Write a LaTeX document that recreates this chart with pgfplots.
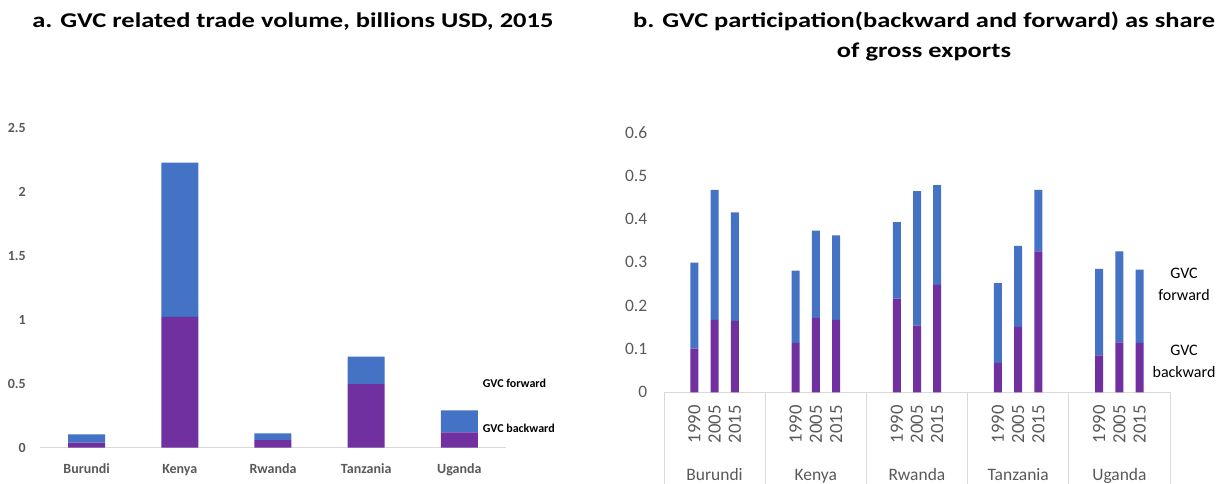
\documentclass[border=0pt]{standalone}
\usepackage{fontspec}
\setmainfont{Carlito}
\usepackage{pgfplots}
\usepackage{pgfplotstable}
\pgfplotsset{compat=1.18}
\definecolor{gblue}{HTML}{4472C4}
\definecolor{gpurp}{HTML}{7030A0}
\definecolor{tgray}{HTML}{595959}
\definecolor{lgray}{HTML}{D9D9D9}

\pgfplotstableread{
x    back   fwd
0    0.039  0.066
1    1.023  1.206
2    0.060  0.052
3    0.497  0.216
4    0.120  0.171
}\voltable

\pgfplotstableread{
x     back   fwd
1.5   0.101  0.198
2.5   0.167  0.300
3.5   0.165  0.250
6.5   0.114  0.167
7.5   0.172  0.201
8.5   0.167  0.195
11.5  0.216  0.177
12.5  0.154  0.310
13.5  0.248  0.230
16.5  0.068  0.184
17.5  0.151  0.187
18.5  0.325  0.142
21.5  0.085  0.200
22.5  0.115  0.210
23.5  0.114  0.169
}\parttable

\begin{document}
\begin{tikzpicture}
\useasboundingbox (0,0) rectangle (924pt,362.25pt);

% ---------- left panel ----------
\begin{axis}[
  at={(30pt,26.475pt)}, anchor=south west,
  scale only axis, width=349.5pt, height=239.775pt,
  xmin=-0.5, xmax=4.5, ymin=0, ymax=2.5,
  ybar stacked, bar width=27.75pt,
  axis x line*=bottom, axis y line*=left,
  x axis line style={draw=lgray, line width=0.75pt},
  y axis line style={draw=none},
  major tick length=0pt,
  xtick={0,1,2,3,4},
  xticklabels={Burundi,Kenya,Rwanda,Tanzania,Uganda},
  ytick={0,0.5,1,1.5,2,2.5},
  yticklabels={0,0.5,1,1.5,2,2.5},
  xticklabel style={yshift=-19.4pt, anchor=base, inner sep=0pt, text=tgray, font=\bfseries\fontsize{10.5}{12}\selectfont},
  yticklabel style={xshift=-10.5pt, anchor=east, inner sep=0pt, text=tgray, font=\bfseries\fontsize{10.5}{12}\selectfont},
  clip=false,
]
\addplot[fill=gpurp, draw=none] table[x=x, y=back] {\voltable};
\addplot[fill=gblue, draw=none] table[x=x, y=fwd] {\voltable};
\end{axis}

% ---------- right panel ----------
\begin{axis}[
  at={(498pt,68.025pt)}, anchor=south west,
  scale only axis, width=379.5pt, height=195pt,
  xmin=0, xmax=25, ymin=0, ymax=0.6,
  ybar stacked, bar width=6pt,
  axis x line*=bottom, axis y line*=left,
  x axis line style={draw=lgray, line width=0.75pt},
  y axis line style={draw=none},
  major tick length=0pt,
  xtick={1.5,2.5,3.5,6.5,7.5,8.5,11.5,12.5,13.5,16.5,17.5,18.5,21.5,22.5,23.5},
  xticklabels={1990,2005,2015,1990,2005,2015,1990,2005,2015,1990,2005,2015,1990,2005,2015},
  ytick={0,0.1,0.2,0.3,0.4,0.5,0.6},
  yticklabels={0,0.1,0.2,0.3,0.4,0.5,0.6},
  xticklabel style={yshift=-9.5pt, rotate=90, anchor=east, inner sep=0pt, text=tgray, font=\fontsize{14}{16}\selectfont},
  yticklabel style={xshift=-12.4pt, anchor=east, inner sep=0pt, text=tgray, font=\fontsize{13.1}{15}\selectfont},
  clip=false,
]
\addplot[fill=gpurp, draw=none] table[x=x, y=back] {\parttable};
\addplot[fill=gblue, draw=none] table[x=x, y=fwd] {\parttable};
\pgfplotsinvokeforeach{0,5,10,15,20,25}{
  \draw[lgray, line width=0.75pt] (axis cs:#1,0) -- ++(0pt,-75pt);
}
\node[anchor=base, inner sep=0pt, text=tgray, font=\fontsize{13.1}{15}\selectfont, yshift=-65.8pt] at (axis cs:2.5,0) {Burundi};
\node[anchor=base, inner sep=0pt, text=tgray, font=\fontsize{13.1}{15}\selectfont, yshift=-65.8pt] at (axis cs:7.5,0) {Kenya};
\node[anchor=base, inner sep=0pt, text=tgray, font=\fontsize{13.1}{15}\selectfont, yshift=-65.8pt] at (axis cs:12.5,0) {Rwanda};
\node[anchor=base, inner sep=0pt, text=tgray, font=\fontsize{13.1}{15}\selectfont, yshift=-65.8pt] at (axis cs:17.5,0) {Tanzania};
\node[anchor=base, inner sep=0pt, text=tgray, font=\fontsize{13.1}{15}\selectfont, yshift=-65.8pt] at (axis cs:22.5,0) {Uganda};
\end{axis}

% ---------- labels ----------
\node[anchor=base west, inner sep=0pt, font=\bfseries\fontsize{9}{11}\selectfont] at (361.9pt,71.6pt) {GVC forward};
\node[anchor=base west, inner sep=0pt, font=\bfseries\fontsize{9}{11}\selectfont] at (361.9pt,38.0pt) {GVC backward};

\node[anchor=base, inner sep=0pt, font=\fontsize{12}{14}\selectfont] at (888pt,153.75pt) {GVC};
\node[anchor=base, inner sep=0pt, font=\fontsize{12}{14}\selectfont] at (888pt,137.25pt) {forward};
\node[anchor=base, inner sep=0pt, font=\fontsize{12}{14}\selectfont] at (888pt,96pt) {GVC};
\node[anchor=base, inner sep=0pt, font=\fontsize{12}{14}\selectfont] at (888pt,79.5pt) {backward};

% ---------- titles ----------
\node[anchor=base west, inner sep=0pt, xscale=1.26, font=\bfseries\fontsize{15.75}{18}\selectfont] at (24pt,341.5pt) {a. GVC related trade volume, billions USD, 2015};
\node[anchor=base, inner sep=0pt, xscale=1.26, font=\bfseries\fontsize{15.75}{18}\selectfont] at (693pt,341.5pt) {b. GVC participation(backward and forward) as share};
\node[anchor=base, inner sep=0pt, xscale=1.26, font=\bfseries\fontsize{15.75}{18}\selectfont] at (693pt,318.75pt) {of gross exports};
\end{tikzpicture}
\end{document}
